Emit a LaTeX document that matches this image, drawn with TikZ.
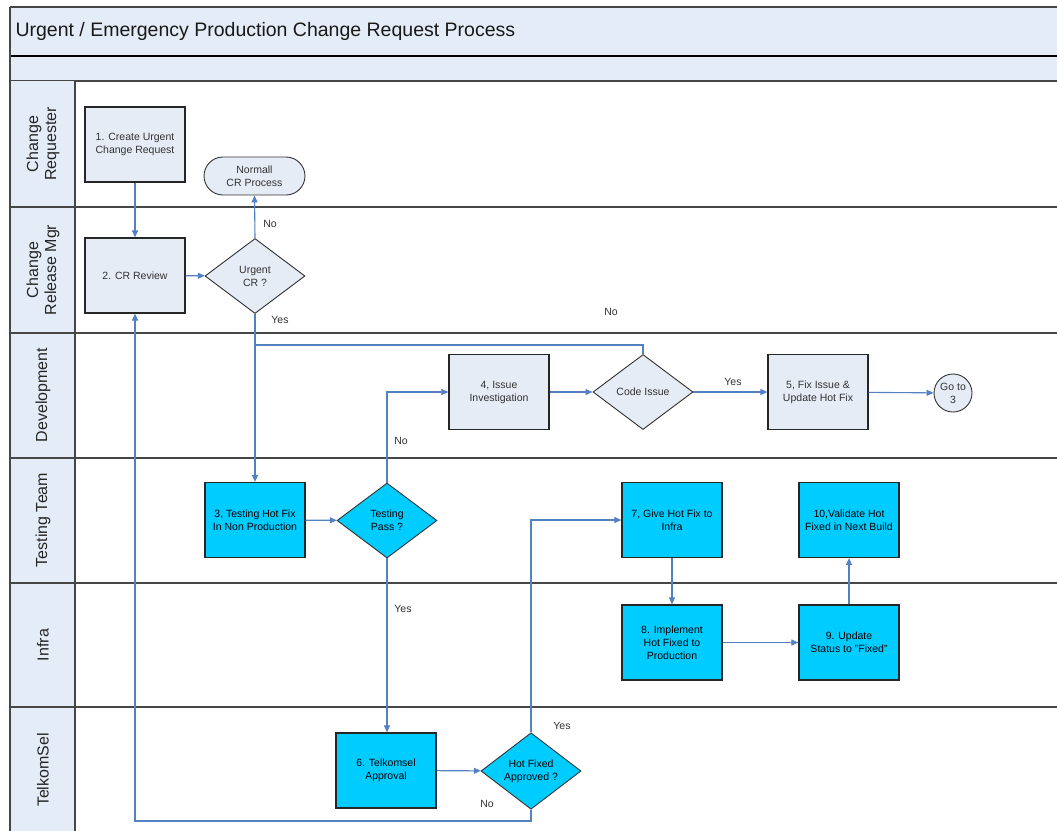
\documentclass[tikz,border=0pt]{standalone}
\usepackage{fontspec}
\setmainfont{Liberation Sans}
\usetikzlibrary{arrows.meta,shapes.geometric}

\definecolor{bandfill}{RGB}{228,236,247}
\definecolor{boxfill}{RGB}{230,236,246}
\definecolor{hotfill}{RGB}{0,204,255}
\definecolor{flow}{RGB}{84,128,196}
\definecolor{gridline}{RGB}{70,70,70}
\definecolor{txt}{RGB}{50,50,50}

\tikzset{
  every node/.style={font=\fontsize{10.5}{13}\selectfont, text=txt},
  procbox/.style={draw=black!85, line width=1.2pt, fill=boxfill, minimum width=100pt,
    minimum height=75pt, inner sep=0pt, align=center},
  hotbox/.style={procbox, fill=hotfill, text=black},
  decision/.style={diamond, draw=black!80, line width=0.9pt, fill=boxfill, minimum width=100pt,
    minimum height=75pt, inner sep=0pt, align=center},
  hotdecision/.style={decision, fill=hotfill, text=black},
  terminal/.style={draw=black!80, line width=0.9pt, fill=boxfill, rounded corners=19pt,
    minimum width=101pt, minimum height=38pt, inner sep=0pt, align=center},
  connector/.style={circle, draw=black!80, line width=0.9pt, fill=boxfill, minimum size=38pt,
    inner sep=0pt, align=center},
  arr/.style={draw=flow, line width=1.1pt, -{Triangle[length=7pt,width=6pt]}},
  flowline/.style={draw=flow, line width=1.1pt},
  lanelabel/.style={rotate=90, align=center, font=\fontsize{16}{18}\selectfont, text=black!85},
  branch/.style={font=\fontsize{10.5}{13}\selectfont, text=txt},
  lanerule/.style={draw=gridline, line width=1.8pt}
}

\begin{document}
\begin{tikzpicture}[x=1pt,y=-1pt]
\useasboundingbox (0,0) rectangle (1057,830);
\fill[white] (0,0) rectangle (1057,830);

% header bands
\fill[bandfill] (10,7) rectangle (1070,81);
\draw[lanerule] (10,7) -- (1070,7);
\draw[draw=black, line width=1.8pt] (10,56) -- (1070,56);
\draw[lanerule] (10,81) -- (1070,81);
\node[anchor=west, font=\fontsize{19.5}{22}\selectfont, text=black!90] (title) at (12,31)
  {Urgent / Emergency Production Change Request Process};

% lane label column
\fill[bandfill] (10,81) rectangle (75,840);
\draw[lanerule] (10,7) -- (10,840);
\draw[lanerule] (75,81) -- (75,840);
\foreach \y in {207,333,458,583,707} \draw[lanerule] (10,\y) -- (1070,\y);

\node[lanelabel] (laneA) at (43,144) {Change\\Requester};
\node[lanelabel] (laneB) at (43,270) {Change\\Release Mgr};
\node[lanelabel] (laneC) at (43,395) {Development};
\node[lanelabel] (laneD) at (43,520) {Testing Team};
\node[lanelabel] (laneE) at (43,645) {Infra};
\node[lanelabel] (laneF) at (43,770) {TelkomSel};

% steps
\node[procbox] (n1) at (135,144.5) {1. Create Urgent\\Change Request};
\node[terminal] (normal) at (254.5,176) {Normall\\CR Process};
\node[procbox] (n2) at (135,275.5) {2. CR Review};
\node[decision] (d1) at (255,276) {Urgent\\CR ?};
\node[procbox] (n4) at (499,392) {4, Issue\\Investigation};
\node[decision] (dcode) at (643,392) {Code Issue};
\node[procbox] (n5) at (818,392) {5, Fix Issue \&\\Update Hot Fix};
\node[connector] (goto) at (953,393) {Go to\\3};
\node[hotbox] (n3) at (255,520) {3, Testing Hot Fix\\In Non Production};
\node[hotdecision] (dtest) at (387,520.5) {Testing\\Pass ?};
\node[hotbox] (n7) at (672,520) {7, Give Hot Fix to\\Infra};
\node[hotbox] (n10) at (849,520) {10,Validate Hot\\Fixed in Next Build};
\node[hotbox] (n8) at (672,642.5) {8. Implement\\Hot Fixed to\\Production};
\node[hotbox] (n9) at (849,642.5) {9. Update\\Status to "Fixed"};
\node[hotbox] (n6) at (386,770.5) {6. Telkomsel\\Approval};
\node[hotdecision] (dhot) at (531,771) {Hot Fixed\\Approved ?};

% routing points
\coordinate (join) at (255,345);
\coordinate (bottomrun) at (0,821);

% connectors
\draw[arr] (n1) -- (n2);
\draw[arr] (n2) -- (d1);
\draw[arr] (d1.north) -- (normal.south);
\draw[arr] (d1.south) -- (n3.north);
\draw[flowline] (dcode.north) |- (join);
\draw[arr] (dtest.north) |- (n4.west);
\draw[arr] (n4) -- (dcode);
\draw[arr] (dcode) -- (n5);
\draw[arr] (n5) -- (goto);
\draw[arr] (n3) -- (dtest);
\draw[arr] (dtest.south) -- (dtest.south |- n6.north);
\draw[arr] (n6) -- (dhot);
\draw[arr] (dhot.north) |- (n7.west);
\draw[arr] (dhot.south) -- (dhot.south |- bottomrun) -| (n2.south);
\draw[arr] (n7) -- (n8);
\draw[arr] (n8) -- (n9);
\draw[arr] (n9) -- (n10);

% branch labels
\node[branch] (lno1) at (270,224) {No};
\node[branch] (lyes1) at (280,320) {Yes};
\node[branch] (lno2) at (611,312) {No};
\node[branch] (lno3) at (401,441) {No};
\node[branch] (lyes2) at (733,382) {Yes};
\node[branch] (lyes3) at (403,609) {Yes};
\node[branch] (lyes4) at (562,726) {Yes};
\node[branch] (lno4) at (487,804) {No};
\end{tikzpicture}
\end{document}
